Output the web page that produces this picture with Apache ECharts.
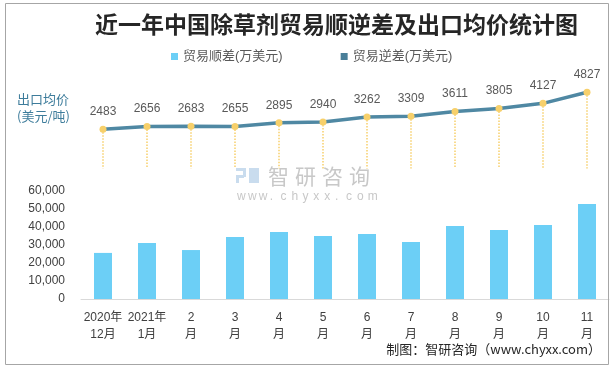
<!DOCTYPE html>
<html>
<head>
<meta charset="utf-8">
<script src="https://cdn.jsdelivr.net/npm/echarts@6/dist/echarts.min.js"></script>
<style>
html,body{margin:0;padding:0;background:#fff;}
#c{width:613px;height:368px;}
</style>
</head>
<body>
<div id="c"></div>
<script>
var categories = ['2020年\n12月','2021年\n1月','2\n月','3\n月','4\n月','5\n月','6\n月','7\n月','8\n月','9\n月','10\n月','11\n月'];
var surplus = [25600, 31100, 27200, 34400, 37200, 35000, 36100, 31700, 40600, 38300, 41100, 52800];
var avgPrice = [2483, 2656, 2683, 2655, 2895, 2940, 3262, 3309, 3611, 3805, 4127, 4827];
var barTicks = [0, 10000, 20000, 30000, 40000, 50000, 60000];

var FONT = '"Liberation Sans", Arial, "Noto Sans CJK SC", sans-serif';
var chart = echarts.init(document.getElementById('c'), null, {renderer: 'canvas'});

var dropLines = avgPrice.map(function (v, i) {
  return [{coord: [i, v]}, {coord: [i, 0]}];
});

// watermark characters (decoration only)
var wmChars = '智研咨询'.split('').map(function (ch, i) {
  return {type: 'text', x: 32 + i * 27, y: 0, style: {text: ch, fill: '#c8c8c8', font: '21px "Noto Sans CJK SC", sans-serif'}};
});
var wmUrl = 'www.chyxx.com'.split('').map(function (ch, i) {
  return {type: 'text', x: 1 + i * 10.9, y: 25, style: {text: ch, fill: '#c8c8c8', font: '12px "Liberation Sans", sans-serif'}};
});

chart.setOption({
  backgroundColor: '#ffffff',
  animation: false,
  textStyle: {fontFamily: FONT},
  legend: {
    top: 45, left: 166,
    itemWidth: 7, itemHeight: 7, itemGap: 58,
    icon: 'rect',
    textStyle: {fontSize: 13, color: '#595959', fontFamily: FONT},
    data: [
      {name: '贸易顺差(万美元)', itemStyle: {color: '#6ccff6'}},
      {name: '贸易逆差(万美元)', itemStyle: {color: '#4a7f99'}}
    ]
  },
  grid: [
    {left: 81, right: 4, top: 191, bottom: 69},
    {left: 81, right: 4, top: 58, bottom: 199.5}
  ],
  xAxis: [
    {
      type: 'category', gridIndex: 0, data: categories, boundaryGap: true,
      axisLine: {lineStyle: {color: '#d9d9d9', width: 1}},
      axisTick: {show: false},
      axisLabel: {color: '#404040', fontSize: 12, lineHeight: 17, margin: 10, interval: 0}
    },
    {
      type: 'category', gridIndex: 1, data: categories, boundaryGap: true, show: false
    }
  ],
  yAxis: [
    {
      type: 'value', gridIndex: 0, min: barTicks[0], max: barTicks[barTicks.length - 1], interval: 10000,
      axisLine: {show: false}, axisTick: {show: false}, splitLine: {show: false},
      axisLabel: {
        color: '#404040', fontSize: 12, margin: 16,
        formatter: function (v) { return v.toLocaleString('en-US'); }
      }
    },
    {
      type: 'value', gridIndex: 1, min: 0, max: 7000, show: false, splitLine: {show: false}
    }
  ],
  graphic: [
    {
      type: 'rect', shape: {x: 5.5, y: 3.5, width: 603, height: 361},
      style: {fill: 'none', stroke: '#a6a6a6', lineWidth: 1}, silent: true, z: 100
    },
    {
      type: 'text', left: 95, top: 13,
      style: {text: '近一年中国除草剂贸易顺逆差及出口均价统计图', fill: '#262626', font: 'bold 23px "Noto Sans CJK SC", sans-serif'}
    },
    {
      type: 'text', left: 17, top: 91,
      style: {text: '出口均价\n(美元/吨)', fill: '#3d7c9b', font: '13px "Noto Sans CJK SC", sans-serif', lineHeight: 17}
    },
    {
      type: 'text', right: 12, top: 343,
      style: {text: '制图：智研咨询（www.chyxx.com）', fill: '#262626', font: '13px "Noto Sans CJK SC", sans-serif'}
    },
    {
      type: 'group', left: 236, top: 166, silent: true, z: 0,
      children: [
        {type: 'rect', shape: {x: 0, y: 2, width: 10, height: 3}, style: {fill: '#c9dcee'}},
        {type: 'rect', shape: {x: 7, y: 2, width: 3, height: 9}, style: {fill: '#c9dcee'}},
        {type: 'rect', shape: {x: 0, y: 9, width: 8, height: 3}, style: {fill: '#c9dcee'}},
        {type: 'rect', shape: {x: 0, y: 9, width: 3, height: 8}, style: {fill: '#c9dcee'}},
        {type: 'rect', shape: {x: 13, y: 2, width: 10, height: 15}, style: {fill: '#c9dcee'}}
      ].concat(wmChars).concat(wmUrl)
    }
  ],
  series: [
    {
      name: '贸易顺差(万美元)', type: 'bar', xAxisIndex: 0, yAxisIndex: 0,
      data: surplus, barWidth: 18,
      itemStyle: {color: '#6ccff6'}
    },
    {
      name: '贸易逆差(万美元)', type: 'line', xAxisIndex: 1, yAxisIndex: 1,
      data: avgPrice,
      symbol: 'circle', symbolSize: 7,
      lineStyle: {color: '#4f88a3', width: 3.5},
      itemStyle: {color: '#f7d06b'},
      label: {show: true, position: 'top', distance: 8, color: '#595959', fontSize: 12},
      markLine: {
        silent: true, symbol: 'none',
        label: {show: false},
        lineStyle: {color: '#f7d06b', type: 'dotted', width: 1.5},
        data: dropLines
      },
      z: 3
    }
  ]
});
</script>
</body>
</html>
